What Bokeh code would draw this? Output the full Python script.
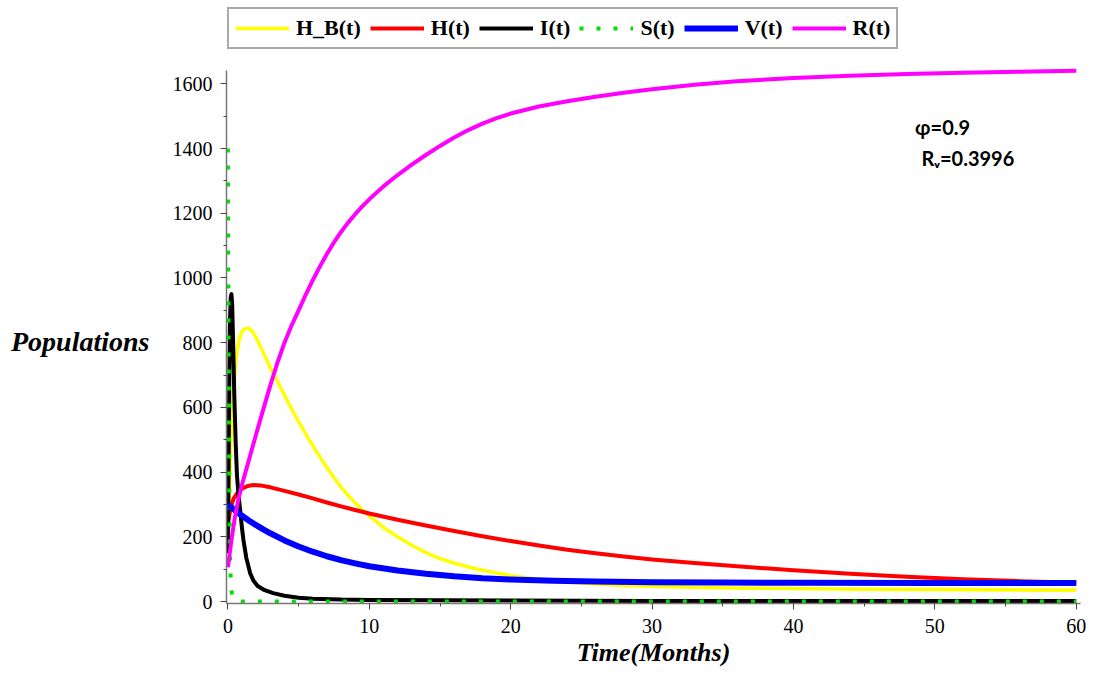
from bokeh.plotting import figure
from bokeh.models import Range1d, FixedTicker, Legend, LegendItem, Label
from bokeh.embed import file_html
from bokeh.resources import INLINE

# ---- data (time in months, populations) ----
t_hb = [0, 0.1, 0.2, 0.3, 0.45, 0.6, 0.8, 1.0, 1.2, 1.4, 1.6, 1.8, 2.0, 2.5, 3.0, 3.5, 4.0, 4.5, 5.0, 5.5, 6.0, 6.5,
        7.0, 7.5, 8.0, 8.5, 9.0, 9.5, 10, 11, 12, 13, 14, 15, 16, 17, 18, 19, 20, 22, 24, 26, 28, 30, 33, 36, 40,
        45, 50, 55, 60]
hb = [150, 330, 480, 590, 690, 760, 810, 835, 843, 845, 840, 830, 815, 770, 722, 680, 638, 596, 556, 518, 482, 447,
      414, 383, 354, 328, 305, 284, 265, 229, 200, 174, 151, 133, 119, 107, 97, 88, 80, 69, 60, 54, 50, 47, 44, 42, 40,
      38, 37, 36, 35]

t_h = [0, 0.2, 0.4, 0.7, 1.0, 1.4, 1.8, 2.3, 3.0, 4.0, 5.0, 6.0, 7.0, 8.0, 9.0, 10, 12, 14, 16, 18, 20, 22, 24, 26,
       28, 30, 33, 36, 40, 44, 48, 52, 56, 60]
h = [240, 292, 318, 337, 349, 357, 360, 359, 353, 342, 331, 319, 306, 294, 283, 272, 253, 235, 218, 202, 187, 173, 160,
     149, 139, 130, 119, 109, 97, 86, 77, 69, 63, 58]

t_i = [0, 0.05, 0.1, 0.15, 0.2, 0.25, 0.3, 0.37, 0.45, 0.55, 0.64, 0.75, 0.87, 1.0, 1.1, 1.3, 1.57, 1.8, 2.1, 2.6,
       3.2, 4, 5, 6, 8, 10, 15, 20, 30, 40, 50, 60]
i_ = [150, 420, 700, 870, 940, 950, 920, 800, 640, 490, 390, 330, 280, 225, 190, 135, 88, 65, 48, 35, 26, 18, 12, 9, 6,
      5, 4, 3, 2, 2, 2, 2]

t_s = [0, 0.03, 0.06, 0.1, 0.15, 0.2, 0.3, 0.5, 1, 5, 10, 20, 30, 40, 50, 60]
s = [1400, 1000, 650, 350, 150, 60, 15, 3, 0, 0, 0, 0, 0, 0, 0, 0]

t_v = [0, 0.5, 1, 1.5, 2, 2.5, 3, 4, 5, 6, 7, 8, 9, 10, 12, 14, 16, 18, 20, 23, 26, 30, 35, 40, 50, 60]
v = [300, 282, 265, 250, 236, 223, 211, 189, 170, 154, 140, 128, 118, 109, 96, 86, 78, 72, 68, 64, 62, 60, 59, 58,
     57, 57]

t_r = [0, 0.25, 0.5, 0.75, 1.0, 1.5, 2.0, 2.5, 3.0, 3.5, 4.0, 4.5, 5.0, 5.5, 6.0, 6.5, 7.0, 7.5, 8.0, 8.5, 9.0, 9.5,
       10, 11, 12, 13, 14, 15, 16, 17, 18, 19, 20, 22, 24, 26, 28, 30, 33, 36, 40, 44, 48, 52, 56, 60]
r = [106, 190, 262, 318, 362, 440, 518, 594, 668, 738, 800, 853, 900, 948, 993, 1035, 1074, 1110, 1142, 1171, 1197,
     1221, 1243, 1283, 1318, 1350, 1380, 1408, 1434, 1457, 1477, 1494, 1508, 1530, 1546, 1560, 1572, 1583, 1597,
     1608, 1618, 1625, 1630, 1634, 1637, 1640]

x_ticks = [0, 10, 20, 30, 40, 50, 60]
x_minor = [5, 15, 25, 35, 45, 55]
y_ticks = [0, 200, 400, 600, 800, 1000, 1200, 1400, 1600]
y_minor = [100, 300, 500, 700, 900, 1100, 1300, 1500]

labels = ["H_B(t)", "H(t)", "I(t)", "S(t)", "V(t)", "R(t)"]

SERIF = "Liberation Serif"

p = figure(width=1093, height=669, output_backend="svg", toolbar_location=None,
           x_range=Range1d(-0.1, 60.3), y_range=Range1d(-6, 1845),
           min_border_left=226, min_border_right=13, min_border_top=4, min_border_bottom=65)
p.title.visible = False
p.xgrid.visible = False
p.ygrid.visible = False
p.outline_line_color = None
p.background_fill_color = "white"
p.border_fill_color = "white"

kw = dict(line_join="round")
r_hb = p.line(t_hb, hb, line_color="#FFFF00", line_width=3.5, **kw)
r_h = p.line(t_h, h, line_color="#FF0000", line_width=4, **kw)
r_i = p.line(t_i, i_, line_color="black", line_width=4, **kw)
r_s = p.line(t_s, s, line_color="#00E000", line_width=4, line_dash="4 13")
r_v = p.line(t_v, v, line_color="#0000FF", line_width=6, **kw)
r_r = p.line(t_r, r, line_color="#FF00FF", line_width=4, **kw)

for ax, maj, mn in ((p.xaxis[0], x_ticks, x_minor), (p.yaxis[0], y_ticks, y_minor)):
    ax.ticker = FixedTicker(ticks=maj, minor_ticks=mn)
    ax.axis_line_color = "#777777"
    ax.axis_line_width = 1.5
    ax.major_tick_line_color = "#444444"
    ax.minor_tick_line_color = "#444444"
    ax.major_tick_out = 6
    ax.major_tick_in = 0
    ax.minor_tick_out = 3
    ax.minor_tick_in = 0
    ax.major_label_text_font = SERIF
    ax.major_label_text_font_size = "20px"
    ax.major_label_text_color = "black"
    ax.axis_label_text_font = SERIF
    ax.axis_label_text_font_style = "bold italic"
    ax.axis_label_text_color = "black"

p.yaxis.bounds = (-6, 1642)

p.xaxis.axis_label = "Time(Months)"
p.xaxis.major_label_standoff = 9
p.xaxis.axis_label_standoff = 2
p.xaxis.axis_label_text_font_size = "26px"

# two leading blank lines push the centred label down to the reference's height
p.yaxis.axis_label = "\n\nPopulations"
p.yaxis.axis_label_orientation = "horizontal"
p.yaxis.major_label_standoff = 8
p.yaxis.axis_label_standoff = 20
p.yaxis.axis_label_text_font_size = "28px"

legend = Legend(items=[LegendItem(label=lab, renderers=[rr]) for lab, rr in
                       zip(labels, [r_hb, r_h, r_i, r_s, r_v, r_r])],
                location=(1, 554), orientation="horizontal")
legend.glyph_width = 54
legend.label_standoff = 7
legend.spacing = 9
legend.padding = 6
legend.margin = 0
legend.label_text_font = SERIF
legend.label_text_font_style = "bold"
legend.label_text_font_size = "22px"
legend.label_text_color = "black"
legend.border_line_color = "#555555"
legend.border_line_width = 2
legend.background_fill_alpha = 1
p.add_layout(legend)

p.add_layout(Label(x=48.6, y=1466, text="φ=0.9", text_font="Lato", text_font_style="bold",
                   text_font_size="20px", text_baseline="middle", text_color="black"))
p.add_layout(Label(x=49.05, y=1370, text="Rᵥ=0.3996", text_font="Lato", text_font_style="bold",
                   text_font_size="20px", text_baseline="middle", text_color="black"))

open("out.html", "w").write(file_html(p, INLINE))
